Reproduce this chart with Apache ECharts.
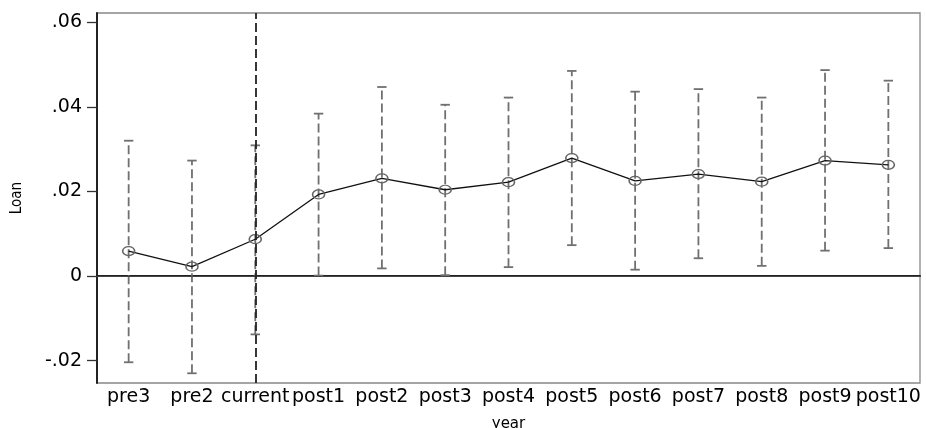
<!DOCTYPE html>
<html><head><meta charset="utf-8">
<script src="https://cdn.jsdelivr.net/npm/echarts@6/dist/echarts.min.js"></script>
<style>html,body{margin:0;padding:0;background:#fff}#c{width:926px;height:428px}</style>
</head><body><div id="c"></div>
<script>
const categories = ['pre3','pre2','current','post1','post2','post3','post4','post5','post6','post7','post8','post9','post10'];
const estimates = [0.0059,0.0022,0.0087,0.0193,0.0231,0.0204,0.0222,0.0279,0.0225,0.0241,0.0223,0.0273,0.0263];
const upper = [0.0320,0.0273,0.0309,0.0384,0.0447,0.0405,0.0422,0.0485,0.0436,0.0442,0.0422,0.0487,0.0462];
const lower = [-0.0204,-0.0230,-0.0138,0.0001,0.0018,0.0002,0.0021,0.0073,0.0015,0.0042,0.0024,0.0060,0.0066];
const yTicks = [-0.02,0,0.02,0.04,0.06];
const yTickLabels = ['-.02','0','.02','.04','.06'];

const chart = echarts.init(document.getElementById('c'));
const font = "'DejaVu Sans', sans-serif";
chart.setOption({
  animation:false,
  grid:{left:97,right:6,top:13,bottom:45,containLabel:false,outerBoundsMode:'none',show:true,borderColor:'#888',borderWidth:1.3},
  xAxis:{type:'category',data:categories,boundaryGap:true,
    name:'year',nameLocation:'middle',nameGap:34,
    nameTextStyle:{fontFamily:font,fontSize:15,color:'#000'},
    axisLine:{lineStyle:{color:'#222',width:2}},
    axisTick:{alignWithLabel:true,length:7,lineStyle:{color:'#333',width:1.3}},
    axisLabel:{interval:0,margin:5,fontFamily:font,fontSize:19,color:'#000'},
    splitLine:{show:false}},
  yAxis:{type:'value',min:-0.0253,max:0.0622,
    name:'Loan',nameLocation:'middle',nameGap:72,nameRotate:90,
    nameTextStyle:{fontFamily:"'Liberation Sans Narrow', 'DejaVu Sans Condensed', sans-serif",fontSize:15,color:'#000'},
    axisLine:{show:true,lineStyle:{color:'#222',width:2}},
    axisTick:{show:true,length:10,customValues:yTicks,lineStyle:{color:'#333',width:1.3}},
    axisLabel:{margin:15,fontFamily:font,fontSize:19,color:'#000',customValues:yTicks,
      formatter:function(v){const i=yTicks.findIndex(t=>Math.abs(t-v)<1e-9);return i>=0?yTickLabels[i]:'';}},
    splitLine:{show:false}},
  series:[
    {type:'custom',z:2,
     data:categories.map((c,i)=>[i,lower[i],upper[i]]),
     renderItem:function(params,api){
       const lo=api.coord([api.value(0),api.value(1)]);
       const hi=api.coord([api.value(0),api.value(2)]);
       const w=4.7;
       const st={stroke:'#707070',lineWidth:1.8};
       return {type:'group',children:[
         {type:'line',shape:{x1:lo[0],y1:lo[1],x2:hi[0],y2:hi[1]},style:Object.assign({lineDash:[9,4]},st)},
         {type:'line',shape:{x1:lo[0]-w,y1:lo[1],x2:lo[0]+w,y2:lo[1]},style:st},
         {type:'line',shape:{x1:hi[0]-w,y1:hi[1],x2:hi[0]+w,y2:hi[1]},style:st}
       ]};
     }},
    {type:'line',data:estimates,z:3,symbol:'circle',symbolSize:[12,9],showSymbol:true,
     lineStyle:{color:'#111',width:1.3},
     itemStyle:{color:'rgba(0,0,0,0)',borderColor:'#666',borderWidth:1.4},
     markLine:{silent:true,symbol:'none',label:{show:false},
       data:[
         {yAxis:0,lineStyle:{color:'#444',width:1.2,type:'solid'}},
         {xAxis:'current',lineStyle:{color:'#222',width:1.8,type:[9,4]}}
       ]}}
  ]
});
</script></body></html>
